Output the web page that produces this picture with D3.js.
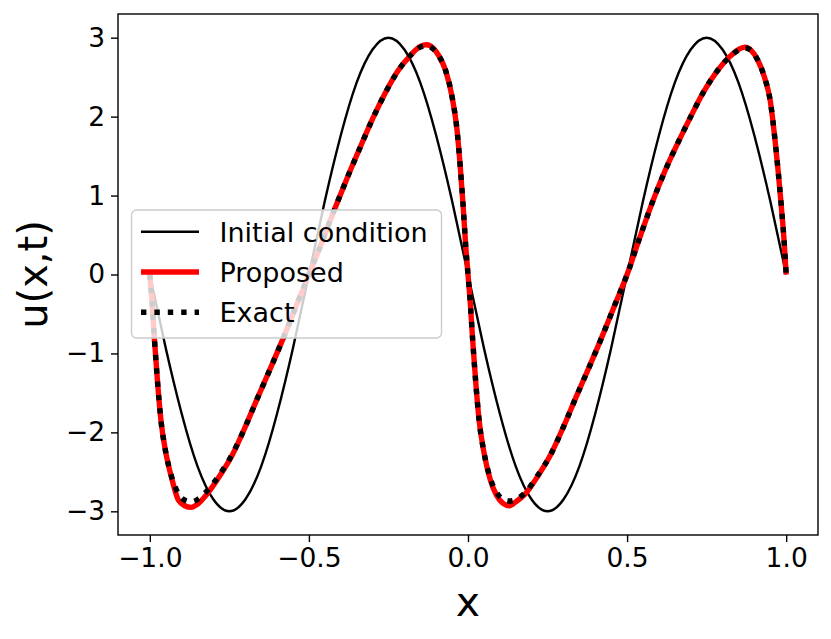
<!DOCTYPE html>
<html>
<head>
<meta charset="utf-8">
<script src="https://cdn.jsdelivr.net/npm/d3@7"></script>
<style>
  body { margin: 0; background: #fff; }
  text { font-family: "DejaVu Sans", sans-serif; fill: #000; }
</style>
</head>
<body>
<div id="chart"></div>
<script>
// initial condition, sampled every 0.05
var xInit = [-1.00, -0.95, -0.90, -0.85, -0.80, -0.75, -0.70, -0.65, -0.60, -0.55,
             -0.50, -0.45, -0.40, -0.35, -0.30, -0.25, -0.20, -0.15, -0.10, -0.05,
              0.00,  0.05,  0.10,  0.15,  0.20,  0.25,  0.30,  0.35,  0.40,  0.45,
              0.50,  0.55,  0.60,  0.65,  0.70,  0.75,  0.80,  0.85,  0.90,  0.95, 1.00];
var uInit = [0, -0.93, -1.76, -2.43, -2.85, -3.00, -2.85, -2.43, -1.76, -0.93,
             0,  0.93,  1.76,  2.43,  2.85,  3.00,  2.85,  2.43,  1.76,  0.93,
             0, -0.93, -1.76, -2.43, -2.85, -3.00, -2.85, -2.43, -1.76, -0.93,
             0,  0.93,  1.76,  2.43,  2.85,  3.00,  2.85,  2.43,  1.76,  0.93, 0];

// solution at final time (denser near the steep fronts)
var xSol = [-1.000, -0.993, -0.985, -0.975, -0.965, -0.950, -0.930, -0.910, -0.890, -0.870,
            -0.850, -0.820, -0.780, -0.740, -0.700, -0.660, -0.620, -0.580, -0.540, -0.500,
            -0.460, -0.420, -0.380, -0.340, -0.300, -0.260, -0.220, -0.180, -0.150, -0.130,
            -0.110, -0.090, -0.070, -0.050, -0.035, -0.025, -0.015, -0.007,  0.000,
             0.007,  0.015,  0.025,  0.035,  0.050,  0.070,  0.090,  0.110,  0.130,  0.150,
             0.180,  0.220,  0.260,  0.300,  0.340,  0.380,  0.420,  0.460,  0.500,
             0.540,  0.580,  0.620,  0.660,  0.700,  0.740,  0.780,  0.820,  0.850,  0.870,
             0.890,  0.910,  0.930,  0.950,  0.965,  0.975,  0.985,  0.993,  1.000];
var uProposed = [0, -0.35, -0.85, -1.40, -1.85, -2.25, -2.60, -2.86, -2.93, -2.95,
                 -2.91, -2.78, -2.55, -2.28, -1.93, -1.55, -1.18, -0.80, -0.40, 0,
                 0.40, 0.82, 1.22, 1.60, 1.97, 2.30, 2.58, 2.78, 2.89, 2.91,
                 2.87, 2.76, 2.58, 2.25, 1.85, 1.40, 0.85, 0.35, 0,
                 -0.35, -0.85, -1.40, -1.85, -2.25, -2.60, -2.80, -2.90, -2.93, -2.88,
                 -2.78, -2.55, -2.28, -1.93, -1.55, -1.18, -0.80, -0.40, 0,
                 0.47, 0.92, 1.32, 1.67, 2.00, 2.31, 2.56, 2.75, 2.85, 2.88,
                 2.84, 2.72, 2.52, 2.20, 1.70, 1.30, 0.85, 0.45, 0];
var uExact = [0, -0.35, -0.85, -1.40, -1.85, -2.25, -2.58, -2.78, -2.86, -2.88,
              -2.85, -2.74, -2.53, -2.27, -1.93, -1.55, -1.18, -0.80, -0.40, 0,
              0.40, 0.82, 1.22, 1.60, 1.97, 2.30, 2.58, 2.78, 2.88, 2.90,
              2.86, 2.76, 2.58, 2.25, 1.85, 1.40, 0.85, 0.35, 0,
              -0.35, -0.85, -1.40, -1.85, -2.25, -2.58, -2.76, -2.85, -2.87, -2.85,
              -2.76, -2.54, -2.28, -1.93, -1.55, -1.18, -0.80, -0.40, 0,
              0.47, 0.92, 1.32, 1.67, 2.00, 2.31, 2.56, 2.75, 2.84, 2.87,
              2.84, 2.72, 2.52, 2.20, 1.70, 1.30, 0.85, 0.45, 0];

var xTicks = [-1.0, -0.5, 0.0, 0.5, 1.0];
var yTicks = [-3, -2, -1, 0, 1, 2, 3];
var legendLabels = ["Initial condition", "Proposed", "Exact"];

var W = 831, H = 639;
var margin = { top: 14, right: 13, bottom: 104, left: 118 };
var w = W - margin.left - margin.right;
var h = H - margin.top - margin.bottom;

var x = d3.scaleLinear().domain([-1.1, 1.1]).range([0, w]);
var y = d3.scaleLinear().domain([-3.3, 3.3]).range([h, 0]);

var svg = d3.select("#chart").append("svg")
  .attr("width", W)
  .attr("height", H);

var g = svg.append("g")
  .attr("transform", "translate(" + margin.left + "," + margin.top + ")");

// clip lines to the axes box
g.append("clipPath").attr("id", "clip")
  .append("rect").attr("width", w).attr("height", h);

function pairs(xs, us) {
  return xs.map(function (d, i) { return [d, us[i]]; });
}

var line = d3.line()
  .x(function (d) { return x(d[0]); })
  .y(function (d) { return y(d[1]); });

var plot = g.append("g").attr("clip-path", "url(#clip)");

plot.append("path")
  .datum(pairs(xInit, uInit))
  .attr("fill", "none")
  .attr("stroke", "#000")
  .attr("stroke-width", 2.4)
  .attr("d", line.curve(d3.curveNatural));

plot.append("path")
  .datum(pairs(xSol, uProposed))
  .attr("fill", "none")
  .attr("stroke", "#ff0000")
  .attr("stroke-width", 5.4)
  .attr("stroke-linejoin", "round")
  .attr("d", line.curve(d3.curveMonotoneX));

plot.append("path")
  .datum(pairs(xSol, uExact))
  .attr("fill", "none")
  .attr("stroke", "#000")
  .attr("stroke-width", 5.4)
  .attr("stroke-dasharray", "5.4,8")
  .attr("d", line.curve(d3.curveMonotoneX));

// axes
var xAxis = g.append("g")
  .attr("transform", "translate(0," + h + ")")
  .call(d3.axisBottom(x).tickValues(xTicks).tickFormat(d3.format(".1f"))
    .tickSize(7).tickPadding(5));

var yAxis = g.append("g")
  .call(d3.axisLeft(y).tickValues(yTicks).tickFormat(d3.format("d"))
    .tickSize(7).tickPadding(6));

[xAxis, yAxis].forEach(function (ax) {
  ax.select(".domain").remove();
  ax.selectAll(".tick line").attr("stroke", "#000").attr("stroke-width", 1.4);
  ax.selectAll(".tick text")
    .attr("font-size", "26.5px")
    .attr("font-family", "DejaVu Sans, sans-serif")
    .attr("fill", "#000");
});
xAxis.selectAll(".tick text").attr("dy", "0.75em");

// frame
g.append("rect")
  .attr("width", w)
  .attr("height", h)
  .attr("fill", "none")
  .attr("stroke", "#000")
  .attr("stroke-width", 1.4);

// axis labels
svg.append("text")
  .attr("x", margin.left + x(0))
  .attr("y", 616)
  .attr("text-anchor", "middle")
  .attr("font-size", "41px")
  .text("x");

svg.append("text")
  .attr("transform", "translate(47," + (margin.top + y(0)) + ") rotate(-90)")
  .attr("text-anchor", "middle")
  .attr("font-size", "40px")
  .text("u(x,t)");

// legend
var legend = svg.append("g").attr("transform", "translate(131.5,210)");

legend.append("rect")
  .attr("width", 310)
  .attr("height", 128)
  .attr("rx", 5)
  .attr("fill", "#fff")
  .attr("fill-opacity", 0.8)
  .attr("stroke", "#cccccc")
  .attr("stroke-width", 1.4);

var handleStyles = [
  { color: "#000", width: 2.4, dash: null },
  { color: "#ff0000", width: 5.4, dash: null },
  { color: "#000", width: 5.4, dash: "5.4,8" }
];

legendLabels.forEach(function (label, i) {
  var ry = 21.7 + i * 40.3;
  var s = handleStyles[i];
  legend.append("line")
    .attr("x1", 9.5).attr("x2", 67.5)
    .attr("y1", ry).attr("y2", ry)
    .attr("stroke", s.color)
    .attr("stroke-width", s.width)
    .attr("stroke-dasharray", s.dash);
  legend.append("text")
    .attr("x", 88)
    .attr("y", ry + 10)
    .attr("font-size", "27px")
    .text(label);
});
</script>
</body>
</html>
